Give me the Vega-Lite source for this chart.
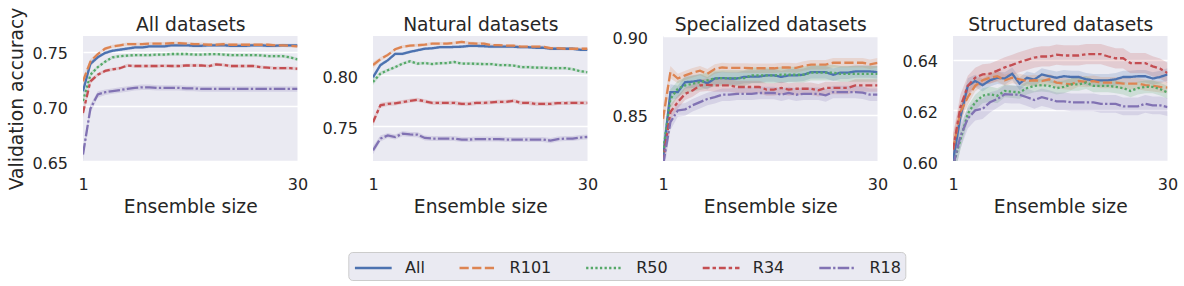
{
"$schema": "https://vega.github.io/schema/vega-lite/v6.json",
"padding": {"left": 7, "top": 7, "right": 0, "bottom": 0},
"background": "white",
"datasets": {
"p1": [
{"s":"All","x":1,"y":0.714,"e":0.004},{"s":"All","x":2,"y":0.739,"e":0.0025},{"s":"All","x":3,"y":0.745,"e":0.0015},{"s":"All","x":4,"y":0.749,"e":0.0015},{"s":"All","x":5,"y":0.751,"e":0.0015},{"s":"All","x":6,"y":0.752,"e":0.0015},{"s":"All","x":7,"y":0.753,"e":0.0015},{"s":"All","x":8,"y":0.754,"e":0.0015},{"s":"All","x":9,"y":0.754,"e":0.0015},{"s":"All","x":10,"y":0.755,"e":0.0015},{"s":"All","x":11,"y":0.755,"e":0.0015},{"s":"All","x":12,"y":0.755,"e":0.0015},{"s":"All","x":13,"y":0.756,"e":0.0015},{"s":"All","x":14,"y":0.756,"e":0.0015},{"s":"All","x":15,"y":0.756,"e":0.0015},{"s":"All","x":16,"y":0.7555,"e":0.0015},{"s":"All","x":17,"y":0.7555,"e":0.0015},{"s":"All","x":18,"y":0.756,"e":0.0015},{"s":"All","x":19,"y":0.756,"e":0.0015},{"s":"All","x":20,"y":0.756,"e":0.0015},{"s":"All","x":21,"y":0.7555,"e":0.0015},{"s":"All","x":22,"y":0.7555,"e":0.0015},{"s":"All","x":23,"y":0.7555,"e":0.0015},{"s":"All","x":24,"y":0.756,"e":0.0015},{"s":"All","x":25,"y":0.756,"e":0.0015},{"s":"All","x":26,"y":0.7555,"e":0.0015},{"s":"All","x":27,"y":0.7555,"e":0.0015},{"s":"All","x":28,"y":0.756,"e":0.0015},{"s":"All","x":29,"y":0.756,"e":0.0015},{"s":"All","x":30,"y":0.756,"e":0.0015},
{"s":"R101","x":1,"y":0.723,"e":0.004},{"s":"R101","x":2,"y":0.741,"e":0.0025},{"s":"R101","x":3,"y":0.748,"e":0.0015},{"s":"R101","x":4,"y":0.753,"e":0.0015},{"s":"R101","x":5,"y":0.755,"e":0.0015},{"s":"R101","x":6,"y":0.756,"e":0.0015},{"s":"R101","x":7,"y":0.757,"e":0.0015},{"s":"R101","x":8,"y":0.757,"e":0.0015},{"s":"R101","x":9,"y":0.757,"e":0.0015},{"s":"R101","x":10,"y":0.7575,"e":0.0015},{"s":"R101","x":11,"y":0.7575,"e":0.0015},{"s":"R101","x":12,"y":0.7575,"e":0.0015},{"s":"R101","x":13,"y":0.758,"e":0.0015},{"s":"R101","x":14,"y":0.758,"e":0.0015},{"s":"R101","x":15,"y":0.7575,"e":0.0015},{"s":"R101","x":16,"y":0.757,"e":0.0015},{"s":"R101","x":17,"y":0.757,"e":0.0015},{"s":"R101","x":18,"y":0.7565,"e":0.0015},{"s":"R101","x":19,"y":0.7565,"e":0.0015},{"s":"R101","x":20,"y":0.757,"e":0.0015},{"s":"R101","x":21,"y":0.7565,"e":0.0015},{"s":"R101","x":22,"y":0.7565,"e":0.0015},{"s":"R101","x":23,"y":0.7565,"e":0.0015},{"s":"R101","x":24,"y":0.7565,"e":0.0015},{"s":"R101","x":25,"y":0.7565,"e":0.0015},{"s":"R101","x":26,"y":0.7565,"e":0.0015},{"s":"R101","x":27,"y":0.756,"e":0.0015},{"s":"R101","x":28,"y":0.756,"e":0.0015},{"s":"R101","x":29,"y":0.7555,"e":0.0015},{"s":"R101","x":30,"y":0.755,"e":0.0015},
{"s":"R50","x":1,"y":0.705,"e":0.004},{"s":"R50","x":2,"y":0.729,"e":0.0025},{"s":"R50","x":3,"y":0.736,"e":0.0015},{"s":"R50","x":4,"y":0.741,"e":0.0015},{"s":"R50","x":5,"y":0.745,"e":0.0015},{"s":"R50","x":6,"y":0.746,"e":0.0015},{"s":"R50","x":7,"y":0.7465,"e":0.0015},{"s":"R50","x":8,"y":0.747,"e":0.0015},{"s":"R50","x":9,"y":0.747,"e":0.0015},{"s":"R50","x":10,"y":0.747,"e":0.0015},{"s":"R50","x":11,"y":0.7475,"e":0.0015},{"s":"R50","x":12,"y":0.7475,"e":0.0015},{"s":"R50","x":13,"y":0.748,"e":0.0015},{"s":"R50","x":14,"y":0.748,"e":0.0015},{"s":"R50","x":15,"y":0.748,"e":0.0015},{"s":"R50","x":16,"y":0.7475,"e":0.0015},{"s":"R50","x":17,"y":0.7475,"e":0.0015},{"s":"R50","x":18,"y":0.7478,"e":0.0015},{"s":"R50","x":19,"y":0.748,"e":0.0015},{"s":"R50","x":20,"y":0.7475,"e":0.0015},{"s":"R50","x":21,"y":0.747,"e":0.0015},{"s":"R50","x":22,"y":0.747,"e":0.0015},{"s":"R50","x":23,"y":0.747,"e":0.0015},{"s":"R50","x":24,"y":0.747,"e":0.0015},{"s":"R50","x":25,"y":0.7468,"e":0.0015},{"s":"R50","x":26,"y":0.746,"e":0.0015},{"s":"R50","x":27,"y":0.746,"e":0.0015},{"s":"R50","x":28,"y":0.746,"e":0.0015},{"s":"R50","x":29,"y":0.745,"e":0.0015},{"s":"R50","x":30,"y":0.743,"e":0.0015},
{"s":"R34","x":1,"y":0.694,"e":0.004},{"s":"R34","x":2,"y":0.723,"e":0.0025},{"s":"R34","x":3,"y":0.729,"e":0.0015},{"s":"R34","x":4,"y":0.7325,"e":0.0015},{"s":"R34","x":5,"y":0.734,"e":0.0015},{"s":"R34","x":6,"y":0.735,"e":0.0015},{"s":"R34","x":7,"y":0.7375,"e":0.0015},{"s":"R34","x":8,"y":0.737,"e":0.0015},{"s":"R34","x":9,"y":0.737,"e":0.0015},{"s":"R34","x":10,"y":0.737,"e":0.0015},{"s":"R34","x":11,"y":0.737,"e":0.0015},{"s":"R34","x":12,"y":0.7372,"e":0.0015},{"s":"R34","x":13,"y":0.737,"e":0.0015},{"s":"R34","x":14,"y":0.737,"e":0.0015},{"s":"R34","x":15,"y":0.7375,"e":0.0015},{"s":"R34","x":16,"y":0.7375,"e":0.0015},{"s":"R34","x":17,"y":0.7375,"e":0.0015},{"s":"R34","x":18,"y":0.737,"e":0.0015},{"s":"R34","x":19,"y":0.7385,"e":0.0015},{"s":"R34","x":20,"y":0.738,"e":0.0015},{"s":"R34","x":21,"y":0.737,"e":0.0015},{"s":"R34","x":22,"y":0.737,"e":0.0015},{"s":"R34","x":23,"y":0.737,"e":0.0015},{"s":"R34","x":24,"y":0.737,"e":0.0015},{"s":"R34","x":25,"y":0.736,"e":0.0015},{"s":"R34","x":26,"y":0.7355,"e":0.0015},{"s":"R34","x":27,"y":0.735,"e":0.0015},{"s":"R34","x":28,"y":0.735,"e":0.0015},{"s":"R34","x":29,"y":0.735,"e":0.0015},{"s":"R34","x":30,"y":0.7345,"e":0.0015},
{"s":"R18","x":1,"y":0.656,"e":0.005},{"s":"R18","x":2,"y":0.698,"e":0.004},{"s":"R18","x":3,"y":0.711,"e":0.003},{"s":"R18","x":4,"y":0.713,"e":0.0025},{"s":"R18","x":5,"y":0.714,"e":0.0025},{"s":"R18","x":6,"y":0.715,"e":0.0025},{"s":"R18","x":7,"y":0.716,"e":0.0025},{"s":"R18","x":8,"y":0.717,"e":0.0025},{"s":"R18","x":9,"y":0.7175,"e":0.0025},{"s":"R18","x":10,"y":0.7175,"e":0.0025},{"s":"R18","x":11,"y":0.717,"e":0.0025},{"s":"R18","x":12,"y":0.717,"e":0.0025},{"s":"R18","x":13,"y":0.717,"e":0.0025},{"s":"R18","x":14,"y":0.717,"e":0.0025},{"s":"R18","x":15,"y":0.7165,"e":0.0025},{"s":"R18","x":16,"y":0.7165,"e":0.0025},{"s":"R18","x":17,"y":0.716,"e":0.0025},{"s":"R18","x":18,"y":0.716,"e":0.0025},{"s":"R18","x":19,"y":0.716,"e":0.0025},{"s":"R18","x":20,"y":0.716,"e":0.0025},{"s":"R18","x":21,"y":0.716,"e":0.0025},{"s":"R18","x":22,"y":0.716,"e":0.0025},{"s":"R18","x":23,"y":0.716,"e":0.0025},{"s":"R18","x":24,"y":0.716,"e":0.0025},{"s":"R18","x":25,"y":0.716,"e":0.0025},{"s":"R18","x":26,"y":0.716,"e":0.0025},{"s":"R18","x":27,"y":0.716,"e":0.0025},{"s":"R18","x":28,"y":0.716,"e":0.0025},{"s":"R18","x":29,"y":0.716,"e":0.0025},{"s":"R18","x":30,"y":0.716,"e":0.0025}
],
"p2": [
{"s":"All","x":1,"y":0.798,"e":0.003},{"s":"All","x":2,"y":0.81,"e":0.002},{"s":"All","x":3,"y":0.8147,"e":0.0015},{"s":"All","x":4,"y":0.821,"e":0.0015},{"s":"All","x":5,"y":0.821,"e":0.0015},{"s":"All","x":6,"y":0.823,"e":0.0015},{"s":"All","x":7,"y":0.8245,"e":0.0015},{"s":"All","x":8,"y":0.826,"e":0.0015},{"s":"All","x":9,"y":0.8265,"e":0.0015},{"s":"All","x":10,"y":0.8275,"e":0.0015},{"s":"All","x":11,"y":0.8275,"e":0.0015},{"s":"All","x":12,"y":0.8278,"e":0.0015},{"s":"All","x":13,"y":0.828,"e":0.0015},{"s":"All","x":14,"y":0.8288,"e":0.0015},{"s":"All","x":15,"y":0.8288,"e":0.0015},{"s":"All","x":16,"y":0.8285,"e":0.0015},{"s":"All","x":17,"y":0.828,"e":0.0015},{"s":"All","x":18,"y":0.828,"e":0.0015},{"s":"All","x":19,"y":0.828,"e":0.0015},{"s":"All","x":20,"y":0.828,"e":0.0015},{"s":"All","x":21,"y":0.8275,"e":0.0015},{"s":"All","x":22,"y":0.8275,"e":0.0015},{"s":"All","x":23,"y":0.827,"e":0.0015},{"s":"All","x":24,"y":0.827,"e":0.0015},{"s":"All","x":25,"y":0.826,"e":0.0015},{"s":"All","x":26,"y":0.826,"e":0.0015},{"s":"All","x":27,"y":0.826,"e":0.0015},{"s":"All","x":28,"y":0.826,"e":0.0015},{"s":"All","x":29,"y":0.825,"e":0.0015},{"s":"All","x":30,"y":0.825,"e":0.0015},
{"s":"R101","x":1,"y":0.81,"e":0.003},{"s":"R101","x":2,"y":0.8157,"e":0.002},{"s":"R101","x":3,"y":0.82,"e":0.0015},{"s":"R101","x":4,"y":0.8255,"e":0.0015},{"s":"R101","x":5,"y":0.828,"e":0.0015},{"s":"R101","x":6,"y":0.829,"e":0.0015},{"s":"R101","x":7,"y":0.8294,"e":0.0015},{"s":"R101","x":8,"y":0.83,"e":0.0015},{"s":"R101","x":9,"y":0.831,"e":0.0015},{"s":"R101","x":10,"y":0.831,"e":0.0015},{"s":"R101","x":11,"y":0.831,"e":0.0015},{"s":"R101","x":12,"y":0.8317,"e":0.0015},{"s":"R101","x":13,"y":0.8327,"e":0.0015},{"s":"R101","x":14,"y":0.8315,"e":0.0015},{"s":"R101","x":15,"y":0.831,"e":0.0015},{"s":"R101","x":16,"y":0.831,"e":0.0015},{"s":"R101","x":17,"y":0.8295,"e":0.0015},{"s":"R101","x":18,"y":0.8295,"e":0.0015},{"s":"R101","x":19,"y":0.829,"e":0.0015},{"s":"R101","x":20,"y":0.829,"e":0.0015},{"s":"R101","x":21,"y":0.828,"e":0.0015},{"s":"R101","x":22,"y":0.828,"e":0.0015},{"s":"R101","x":23,"y":0.828,"e":0.0015},{"s":"R101","x":24,"y":0.828,"e":0.0015},{"s":"R101","x":25,"y":0.8265,"e":0.0015},{"s":"R101","x":26,"y":0.8265,"e":0.0015},{"s":"R101","x":27,"y":0.826,"e":0.0015},{"s":"R101","x":28,"y":0.826,"e":0.0015},{"s":"R101","x":29,"y":0.826,"e":0.0015},{"s":"R101","x":30,"y":0.826,"e":0.0015},
{"s":"R50","x":1,"y":0.7935,"e":0.003},{"s":"R50","x":2,"y":0.8016,"e":0.002},{"s":"R50","x":3,"y":0.805,"e":0.0015},{"s":"R50","x":4,"y":0.808,"e":0.0015},{"s":"R50","x":5,"y":0.8114,"e":0.0015},{"s":"R50","x":6,"y":0.8137,"e":0.0015},{"s":"R50","x":7,"y":0.8114,"e":0.0015},{"s":"R50","x":8,"y":0.812,"e":0.0015},{"s":"R50","x":9,"y":0.811,"e":0.0015},{"s":"R50","x":10,"y":0.8118,"e":0.0015},{"s":"R50","x":11,"y":0.812,"e":0.0015},{"s":"R50","x":12,"y":0.813,"e":0.0015},{"s":"R50","x":13,"y":0.8115,"e":0.0015},{"s":"R50","x":14,"y":0.8115,"e":0.0015},{"s":"R50","x":15,"y":0.8112,"e":0.0015},{"s":"R50","x":16,"y":0.811,"e":0.0015},{"s":"R50","x":17,"y":0.811,"e":0.0015},{"s":"R50","x":18,"y":0.81,"e":0.0015},{"s":"R50","x":19,"y":0.81,"e":0.0015},{"s":"R50","x":20,"y":0.8095,"e":0.0015},{"s":"R50","x":21,"y":0.808,"e":0.0015},{"s":"R50","x":22,"y":0.808,"e":0.0015},{"s":"R50","x":23,"y":0.8075,"e":0.0015},{"s":"R50","x":24,"y":0.8075,"e":0.0015},{"s":"R50","x":25,"y":0.807,"e":0.0015},{"s":"R50","x":26,"y":0.807,"e":0.0015},{"s":"R50","x":27,"y":0.807,"e":0.0015},{"s":"R50","x":28,"y":0.806,"e":0.0015},{"s":"R50","x":29,"y":0.804,"e":0.0015},{"s":"R50","x":30,"y":0.803,"e":0.0015},
{"s":"R34","x":1,"y":0.754,"e":0.004},{"s":"R34","x":2,"y":0.7706,"e":0.0025},{"s":"R34","x":3,"y":0.772,"e":0.002},{"s":"R34","x":4,"y":0.7725,"e":0.002},{"s":"R34","x":5,"y":0.7738,"e":0.002},{"s":"R34","x":6,"y":0.775,"e":0.002},{"s":"R34","x":7,"y":0.776,"e":0.002},{"s":"R34","x":8,"y":0.7745,"e":0.002},{"s":"R34","x":9,"y":0.7729,"e":0.002},{"s":"R34","x":10,"y":0.773,"e":0.002},{"s":"R34","x":11,"y":0.773,"e":0.002},{"s":"R34","x":12,"y":0.773,"e":0.002},{"s":"R34","x":13,"y":0.772,"e":0.002},{"s":"R34","x":14,"y":0.772,"e":0.002},{"s":"R34","x":15,"y":0.773,"e":0.002},{"s":"R34","x":16,"y":0.773,"e":0.002},{"s":"R34","x":17,"y":0.7735,"e":0.002},{"s":"R34","x":18,"y":0.774,"e":0.002},{"s":"R34","x":19,"y":0.774,"e":0.002},{"s":"R34","x":20,"y":0.775,"e":0.002},{"s":"R34","x":21,"y":0.773,"e":0.002},{"s":"R34","x":22,"y":0.773,"e":0.002},{"s":"R34","x":23,"y":0.772,"e":0.002},{"s":"R34","x":24,"y":0.772,"e":0.002},{"s":"R34","x":25,"y":0.772,"e":0.002},{"s":"R34","x":26,"y":0.7728,"e":0.002},{"s":"R34","x":27,"y":0.7728,"e":0.002},{"s":"R34","x":28,"y":0.773,"e":0.002},{"s":"R34","x":29,"y":0.773,"e":0.002},{"s":"R34","x":30,"y":0.773,"e":0.002},
{"s":"R18","x":1,"y":0.7265,"e":0.004},{"s":"R18","x":2,"y":0.738,"e":0.003},{"s":"R18","x":3,"y":0.741,"e":0.0025},{"s":"R18","x":4,"y":0.7395,"e":0.0025},{"s":"R18","x":5,"y":0.7428,"e":0.0025},{"s":"R18","x":6,"y":0.742,"e":0.0025},{"s":"R18","x":7,"y":0.7418,"e":0.0025},{"s":"R18","x":8,"y":0.7386,"e":0.0025},{"s":"R18","x":9,"y":0.738,"e":0.0025},{"s":"R18","x":10,"y":0.738,"e":0.0025},{"s":"R18","x":11,"y":0.738,"e":0.0025},{"s":"R18","x":12,"y":0.738,"e":0.0025},{"s":"R18","x":13,"y":0.737,"e":0.0025},{"s":"R18","x":14,"y":0.737,"e":0.0025},{"s":"R18","x":15,"y":0.7375,"e":0.0025},{"s":"R18","x":16,"y":0.7375,"e":0.0025},{"s":"R18","x":17,"y":0.7375,"e":0.0025},{"s":"R18","x":18,"y":0.7375,"e":0.0025},{"s":"R18","x":19,"y":0.737,"e":0.0025},{"s":"R18","x":20,"y":0.737,"e":0.0025},{"s":"R18","x":21,"y":0.737,"e":0.0025},{"s":"R18","x":22,"y":0.737,"e":0.0025},{"s":"R18","x":23,"y":0.737,"e":0.0025},{"s":"R18","x":24,"y":0.737,"e":0.0025},{"s":"R18","x":25,"y":0.736,"e":0.0025},{"s":"R18","x":26,"y":0.7375,"e":0.0025},{"s":"R18","x":27,"y":0.738,"e":0.0025},{"s":"R18","x":28,"y":0.738,"e":0.0025},{"s":"R18","x":29,"y":0.739,"e":0.0025},{"s":"R18","x":30,"y":0.7395,"e":0.0025}
],
"p3": [
{"s":"All","x":1,"y":0.822,"e":0.008},{"s":"All","x":2,"y":0.8644,"e":0.005},{"s":"All","x":3,"y":0.8644,"e":0.004},{"s":"All","x":4,"y":0.8707,"e":0.004},{"s":"All","x":5,"y":0.871,"e":0.004},{"s":"All","x":6,"y":0.8718,"e":0.004},{"s":"All","x":7,"y":0.87,"e":0.004},{"s":"All","x":8,"y":0.873,"e":0.004},{"s":"All","x":9,"y":0.8733,"e":0.004},{"s":"All","x":10,"y":0.873,"e":0.004},{"s":"All","x":11,"y":0.873,"e":0.004},{"s":"All","x":12,"y":0.874,"e":0.004},{"s":"All","x":13,"y":0.8742,"e":0.004},{"s":"All","x":14,"y":0.8742,"e":0.004},{"s":"All","x":15,"y":0.875,"e":0.004},{"s":"All","x":16,"y":0.875,"e":0.004},{"s":"All","x":17,"y":0.874,"e":0.004},{"s":"All","x":18,"y":0.875,"e":0.004},{"s":"All","x":19,"y":0.875,"e":0.004},{"s":"All","x":20,"y":0.8754,"e":0.004},{"s":"All","x":21,"y":0.877,"e":0.004},{"s":"All","x":22,"y":0.877,"e":0.004},{"s":"All","x":23,"y":0.877,"e":0.004},{"s":"All","x":24,"y":0.8754,"e":0.004},{"s":"All","x":25,"y":0.8767,"e":0.004},{"s":"All","x":26,"y":0.8767,"e":0.004},{"s":"All","x":27,"y":0.8775,"e":0.004},{"s":"All","x":28,"y":0.8775,"e":0.004},{"s":"All","x":29,"y":0.8775,"e":0.004},{"s":"All","x":30,"y":0.877,"e":0.004},
{"s":"R101","x":1,"y":0.8474,"e":0.008},{"s":"R101","x":2,"y":0.877,"e":0.004},{"s":"R101","x":3,"y":0.873,"e":0.003},{"s":"R101","x":4,"y":0.875,"e":0.003},{"s":"R101","x":5,"y":0.8767,"e":0.003},{"s":"R101","x":6,"y":0.878,"e":0.003},{"s":"R101","x":7,"y":0.876,"e":0.003},{"s":"R101","x":8,"y":0.879,"e":0.003},{"s":"R101","x":9,"y":0.88,"e":0.003},{"s":"R101","x":10,"y":0.8797,"e":0.003},{"s":"R101","x":11,"y":0.8797,"e":0.003},{"s":"R101","x":12,"y":0.8797,"e":0.003},{"s":"R101","x":13,"y":0.8795,"e":0.003},{"s":"R101","x":14,"y":0.8795,"e":0.003},{"s":"R101","x":15,"y":0.8795,"e":0.003},{"s":"R101","x":16,"y":0.8795,"e":0.003},{"s":"R101","x":17,"y":0.88,"e":0.003},{"s":"R101","x":18,"y":0.88,"e":0.003},{"s":"R101","x":19,"y":0.8797,"e":0.003},{"s":"R101","x":20,"y":0.881,"e":0.003},{"s":"R101","x":21,"y":0.8818,"e":0.003},{"s":"R101","x":22,"y":0.8818,"e":0.003},{"s":"R101","x":23,"y":0.8818,"e":0.003},{"s":"R101","x":24,"y":0.883,"e":0.003},{"s":"R101","x":25,"y":0.883,"e":0.003},{"s":"R101","x":26,"y":0.883,"e":0.003},{"s":"R101","x":27,"y":0.883,"e":0.003},{"s":"R101","x":28,"y":0.883,"e":0.003},{"s":"R101","x":29,"y":0.882,"e":0.003},{"s":"R101","x":30,"y":0.883,"e":0.003},
{"s":"R50","x":1,"y":0.826,"e":0.008},{"s":"R50","x":2,"y":0.86,"e":0.006},{"s":"R50","x":3,"y":0.8665,"e":0.005},{"s":"R50","x":4,"y":0.8686,"e":0.005},{"s":"R50","x":5,"y":0.8697,"e":0.005},{"s":"R50","x":6,"y":0.8707,"e":0.005},{"s":"R50","x":7,"y":0.8718,"e":0.005},{"s":"R50","x":8,"y":0.873,"e":0.005},{"s":"R50","x":9,"y":0.8733,"e":0.005},{"s":"R50","x":10,"y":0.8733,"e":0.005},{"s":"R50","x":11,"y":0.8733,"e":0.005},{"s":"R50","x":12,"y":0.8733,"e":0.005},{"s":"R50","x":13,"y":0.875,"e":0.005},{"s":"R50","x":14,"y":0.875,"e":0.005},{"s":"R50","x":15,"y":0.875,"e":0.005},{"s":"R50","x":16,"y":0.875,"e":0.005},{"s":"R50","x":17,"y":0.8754,"e":0.005},{"s":"R50","x":18,"y":0.8754,"e":0.005},{"s":"R50","x":19,"y":0.8754,"e":0.005},{"s":"R50","x":20,"y":0.8754,"e":0.005},{"s":"R50","x":21,"y":0.8767,"e":0.005},{"s":"R50","x":22,"y":0.8767,"e":0.005},{"s":"R50","x":23,"y":0.8767,"e":0.005},{"s":"R50","x":24,"y":0.8767,"e":0.005},{"s":"R50","x":25,"y":0.876,"e":0.005},{"s":"R50","x":26,"y":0.876,"e":0.005},{"s":"R50","x":27,"y":0.876,"e":0.005},{"s":"R50","x":28,"y":0.876,"e":0.005},{"s":"R50","x":29,"y":0.876,"e":0.005},{"s":"R50","x":30,"y":0.876,"e":0.005},
{"s":"R34","x":1,"y":0.82,"e":0.008},{"s":"R34","x":2,"y":0.8517,"e":0.005},{"s":"R34","x":3,"y":0.858,"e":0.004},{"s":"R34","x":4,"y":0.8633,"e":0.004},{"s":"R34","x":5,"y":0.8654,"e":0.004},{"s":"R34","x":6,"y":0.8686,"e":0.004},{"s":"R34","x":7,"y":0.869,"e":0.004},{"s":"R34","x":8,"y":0.8686,"e":0.004},{"s":"R34","x":9,"y":0.8686,"e":0.004},{"s":"R34","x":10,"y":0.8686,"e":0.004},{"s":"R34","x":11,"y":0.8676,"e":0.004},{"s":"R34","x":12,"y":0.8676,"e":0.004},{"s":"R34","x":13,"y":0.8676,"e":0.004},{"s":"R34","x":14,"y":0.8676,"e":0.004},{"s":"R34","x":15,"y":0.866,"e":0.004},{"s":"R34","x":16,"y":0.866,"e":0.004},{"s":"R34","x":17,"y":0.867,"e":0.004},{"s":"R34","x":18,"y":0.866,"e":0.004},{"s":"R34","x":19,"y":0.8665,"e":0.004},{"s":"R34","x":20,"y":0.8665,"e":0.004},{"s":"R34","x":21,"y":0.8665,"e":0.004},{"s":"R34","x":22,"y":0.8655,"e":0.004},{"s":"R34","x":23,"y":0.867,"e":0.004},{"s":"R34","x":24,"y":0.867,"e":0.004},{"s":"R34","x":25,"y":0.867,"e":0.004},{"s":"R34","x":26,"y":0.867,"e":0.004},{"s":"R34","x":27,"y":0.8686,"e":0.004},{"s":"R34","x":28,"y":0.8686,"e":0.004},{"s":"R34","x":29,"y":0.8686,"e":0.004},{"s":"R34","x":30,"y":0.8686,"e":0.004},
{"s":"R18","x":1,"y":0.818,"e":0.008},{"s":"R18","x":2,"y":0.8453,"e":0.005},{"s":"R18","x":3,"y":0.8527,"e":0.004},{"s":"R18","x":4,"y":0.8534,"e":0.004},{"s":"R18","x":5,"y":0.856,"e":0.004},{"s":"R18","x":6,"y":0.858,"e":0.004},{"s":"R18","x":7,"y":0.86,"e":0.004},{"s":"R18","x":8,"y":0.8612,"e":0.004},{"s":"R18","x":9,"y":0.8627,"e":0.004},{"s":"R18","x":10,"y":0.8627,"e":0.004},{"s":"R18","x":11,"y":0.8633,"e":0.004},{"s":"R18","x":12,"y":0.8633,"e":0.004},{"s":"R18","x":13,"y":0.8633,"e":0.004},{"s":"R18","x":14,"y":0.8638,"e":0.004},{"s":"R18","x":15,"y":0.8638,"e":0.004},{"s":"R18","x":16,"y":0.8638,"e":0.004},{"s":"R18","x":17,"y":0.8627,"e":0.004},{"s":"R18","x":18,"y":0.8638,"e":0.004},{"s":"R18","x":19,"y":0.8627,"e":0.004},{"s":"R18","x":20,"y":0.8633,"e":0.004},{"s":"R18","x":21,"y":0.8633,"e":0.004},{"s":"R18","x":22,"y":0.8633,"e":0.004},{"s":"R18","x":23,"y":0.8623,"e":0.004},{"s":"R18","x":24,"y":0.8644,"e":0.004},{"s":"R18","x":25,"y":0.8644,"e":0.004},{"s":"R18","x":26,"y":0.8644,"e":0.004},{"s":"R18","x":27,"y":0.8644,"e":0.004},{"s":"R18","x":28,"y":0.864,"e":0.004},{"s":"R18","x":29,"y":0.8627,"e":0.004},{"s":"R18","x":30,"y":0.8627,"e":0.004}
],
"p4": [
{"s":"All","x":1,"y":0.6,"e":0.006},{"s":"All","x":2,"y":0.6174,"e":0.004},{"s":"All","x":3,"y":0.6297,"e":0.003},{"s":"All","x":4,"y":0.6316,"e":0.0025},{"s":"All","x":5,"y":0.63,"e":0.0025},{"s":"All","x":6,"y":0.6319,"e":0.0025},{"s":"All","x":7,"y":0.6329,"e":0.0025},{"s":"All","x":8,"y":0.6326,"e":0.0025},{"s":"All","x":9,"y":0.6345,"e":0.0025},{"s":"All","x":10,"y":0.6306,"e":0.0025},{"s":"All","x":11,"y":0.6329,"e":0.0025},{"s":"All","x":12,"y":0.6322,"e":0.0025},{"s":"All","x":13,"y":0.6342,"e":0.0025},{"s":"All","x":14,"y":0.6335,"e":0.0025},{"s":"All","x":15,"y":0.6329,"e":0.0025},{"s":"All","x":16,"y":0.6335,"e":0.0025},{"s":"All","x":17,"y":0.6332,"e":0.0025},{"s":"All","x":18,"y":0.6332,"e":0.0025},{"s":"All","x":19,"y":0.6323,"e":0.0025},{"s":"All","x":20,"y":0.6319,"e":0.0025},{"s":"All","x":21,"y":0.6319,"e":0.0025},{"s":"All","x":22,"y":0.6319,"e":0.0025},{"s":"All","x":23,"y":0.6323,"e":0.0025},{"s":"All","x":24,"y":0.6332,"e":0.0025},{"s":"All","x":25,"y":0.6332,"e":0.0025},{"s":"All","x":26,"y":0.6335,"e":0.0025},{"s":"All","x":27,"y":0.6335,"e":0.0025},{"s":"All","x":28,"y":0.6326,"e":0.0025},{"s":"All","x":29,"y":0.6332,"e":0.0025},{"s":"All","x":30,"y":0.6342,"e":0.0025},
{"s":"R101","x":1,"y":0.6045,"e":0.006},{"s":"R101","x":2,"y":0.6194,"e":0.004},{"s":"R101","x":3,"y":0.6252,"e":0.003},{"s":"R101","x":4,"y":0.6297,"e":0.0022},{"s":"R101","x":5,"y":0.6319,"e":0.0022},{"s":"R101","x":6,"y":0.6329,"e":0.0022},{"s":"R101","x":7,"y":0.6335,"e":0.0022},{"s":"R101","x":8,"y":0.6319,"e":0.0022},{"s":"R101","x":9,"y":0.6329,"e":0.0022},{"s":"R101","x":10,"y":0.6323,"e":0.0022},{"s":"R101","x":11,"y":0.6316,"e":0.0022},{"s":"R101","x":12,"y":0.6319,"e":0.0022},{"s":"R101","x":13,"y":0.6316,"e":0.0022},{"s":"R101","x":14,"y":0.6323,"e":0.0022},{"s":"R101","x":15,"y":0.631,"e":0.0022},{"s":"R101","x":16,"y":0.6306,"e":0.0022},{"s":"R101","x":17,"y":0.6303,"e":0.0022},{"s":"R101","x":18,"y":0.6316,"e":0.0022},{"s":"R101","x":19,"y":0.6313,"e":0.0022},{"s":"R101","x":20,"y":0.6316,"e":0.0022},{"s":"R101","x":21,"y":0.631,"e":0.0022},{"s":"R101","x":22,"y":0.631,"e":0.0022},{"s":"R101","x":23,"y":0.631,"e":0.0022},{"s":"R101","x":24,"y":0.6306,"e":0.0022},{"s":"R101","x":25,"y":0.6306,"e":0.0022},{"s":"R101","x":26,"y":0.6306,"e":0.0022},{"s":"R101","x":27,"y":0.63,"e":0.0022},{"s":"R101","x":28,"y":0.6297,"e":0.0022},{"s":"R101","x":29,"y":0.6293,"e":0.0022},{"s":"R101","x":30,"y":0.629,"e":0.0022},
{"s":"R50","x":1,"y":0.598,"e":0.006},{"s":"R50","x":2,"y":0.6084,"e":0.004},{"s":"R50","x":3,"y":0.6187,"e":0.003},{"s":"R50","x":4,"y":0.6232,"e":0.003},{"s":"R50","x":5,"y":0.6258,"e":0.003},{"s":"R50","x":6,"y":0.6264,"e":0.003},{"s":"R50","x":7,"y":0.6258,"e":0.003},{"s":"R50","x":8,"y":0.6277,"e":0.0025},{"s":"R50","x":9,"y":0.6274,"e":0.0025},{"s":"R50","x":10,"y":0.6271,"e":0.0025},{"s":"R50","x":11,"y":0.6288,"e":0.0025},{"s":"R50","x":12,"y":0.6297,"e":0.0025},{"s":"R50","x":13,"y":0.63,"e":0.0025},{"s":"R50","x":14,"y":0.6297,"e":0.0025},{"s":"R50","x":15,"y":0.6288,"e":0.0025},{"s":"R50","x":16,"y":0.6293,"e":0.0025},{"s":"R50","x":17,"y":0.6303,"e":0.0025},{"s":"R50","x":18,"y":0.6303,"e":0.0025},{"s":"R50","x":19,"y":0.631,"e":0.0025},{"s":"R50","x":20,"y":0.6297,"e":0.0025},{"s":"R50","x":21,"y":0.6297,"e":0.0025},{"s":"R50","x":22,"y":0.6297,"e":0.0025},{"s":"R50","x":23,"y":0.6293,"e":0.0025},{"s":"R50","x":24,"y":0.6288,"e":0.0025},{"s":"R50","x":25,"y":0.6277,"e":0.0025},{"s":"R50","x":26,"y":0.6288,"e":0.0025},{"s":"R50","x":27,"y":0.6293,"e":0.0025},{"s":"R50","x":28,"y":0.6293,"e":0.0025},{"s":"R50","x":29,"y":0.6284,"e":0.0025},{"s":"R50","x":30,"y":0.6271,"e":0.0025},
{"s":"R34","x":1,"y":0.6045,"e":0.006},{"s":"R34","x":2,"y":0.6213,"e":0.005},{"s":"R34","x":3,"y":0.6297,"e":0.004},{"s":"R34","x":4,"y":0.6329,"e":0.004},{"s":"R34","x":5,"y":0.6342,"e":0.004},{"s":"R34","x":6,"y":0.6345,"e":0.004},{"s":"R34","x":7,"y":0.6357,"e":0.004},{"s":"R34","x":8,"y":0.637,"e":0.004},{"s":"R34","x":9,"y":0.638,"e":0.004},{"s":"R34","x":10,"y":0.6391,"e":0.004},{"s":"R34","x":11,"y":0.64,"e":0.004},{"s":"R34","x":12,"y":0.6409,"e":0.004},{"s":"R34","x":13,"y":0.6413,"e":0.004},{"s":"R34","x":14,"y":0.6413,"e":0.004},{"s":"R34","x":15,"y":0.642,"e":0.004},{"s":"R34","x":16,"y":0.6417,"e":0.004},{"s":"R34","x":17,"y":0.6417,"e":0.004},{"s":"R34","x":18,"y":0.6417,"e":0.004},{"s":"R34","x":19,"y":0.6422,"e":0.004},{"s":"R34","x":20,"y":0.6422,"e":0.004},{"s":"R34","x":21,"y":0.6422,"e":0.004},{"s":"R34","x":22,"y":0.6413,"e":0.004},{"s":"R34","x":23,"y":0.6406,"e":0.004},{"s":"R34","x":24,"y":0.6406,"e":0.004},{"s":"R34","x":25,"y":0.6387,"e":0.004},{"s":"R34","x":26,"y":0.6387,"e":0.004},{"s":"R34","x":27,"y":0.6387,"e":0.004},{"s":"R34","x":28,"y":0.6374,"e":0.004},{"s":"R34","x":29,"y":0.6365,"e":0.004},{"s":"R34","x":30,"y":0.6348,"e":0.004},
{"s":"R18","x":1,"y":0.598,"e":0.006},{"s":"R18","x":2,"y":0.6097,"e":0.005},{"s":"R18","x":3,"y":0.6168,"e":0.004},{"s":"R18","x":4,"y":0.62,"e":0.004},{"s":"R18","x":5,"y":0.6206,"e":0.004},{"s":"R18","x":6,"y":0.6232,"e":0.004},{"s":"R18","x":7,"y":0.6245,"e":0.0035},{"s":"R18","x":8,"y":0.6264,"e":0.0035},{"s":"R18","x":9,"y":0.6262,"e":0.0035},{"s":"R18","x":10,"y":0.6262,"e":0.0035},{"s":"R18","x":11,"y":0.6252,"e":0.0035},{"s":"R18","x":12,"y":0.6241,"e":0.0035},{"s":"R18","x":13,"y":0.6252,"e":0.0035},{"s":"R18","x":14,"y":0.6245,"e":0.0035},{"s":"R18","x":15,"y":0.6236,"e":0.0035},{"s":"R18","x":16,"y":0.6236,"e":0.0035},{"s":"R18","x":17,"y":0.6232,"e":0.0035},{"s":"R18","x":18,"y":0.6232,"e":0.0035},{"s":"R18","x":19,"y":0.6232,"e":0.0035},{"s":"R18","x":20,"y":0.6232,"e":0.0035},{"s":"R18","x":21,"y":0.6226,"e":0.0035},{"s":"R18","x":22,"y":0.6226,"e":0.0035},{"s":"R18","x":23,"y":0.6226,"e":0.0035},{"s":"R18","x":24,"y":0.6216,"e":0.0035},{"s":"R18","x":25,"y":0.6216,"e":0.0035},{"s":"R18","x":26,"y":0.6216,"e":0.0035},{"s":"R18","x":27,"y":0.6226,"e":0.0035},{"s":"R18","x":28,"y":0.622,"e":0.0035},{"s":"R18","x":29,"y":0.622,"e":0.0035},{"s":"R18","x":30,"y":0.6213,"e":0.0035}
]
},
"config": {
"font": "DejaVu Sans",
"view": {"fill": "#EAEAF2", "stroke": null},
"axis": {"domain": false, "ticks": false, "labelColor": "#262626", "titleColor": "#262626", "labelFontSize": 16, "titleFontSize": 18.7, "titleFontWeight": "normal", "gridColor": "#FFFFFF", "gridWidth": 1.5, "labelFont": "DejaVu Sans", "titleFont": "DejaVu Sans"},
"axisBottom": {"grid": false, "labelPadding": 15, "titlePadding": 5, "labelFlush": false},
"axisTop": {"grid": false, "labels": false, "titlePadding": 6, "titleBaseline": "alphabetic"},
"axisY": {"labelPadding": 15.5, "titlePadding": 5, "labelOffset": 2},
"legend": {"orient": "none", "legendX": 265.3, "legendY": 216, "direction": "horizontal", "columns": 5, "labelFontSize": 16, "labelColor": "#262626", "labelFont": "DejaVu Sans", "symbolSize": 441, "symbolStrokeWidth": 2.3, "symbolOffset": 9, "labelOffset": 19.7, "columnPadding": 29.6, "padding": 4, "fillColor": "#EAEAF2", "strokeColor": "#CCCCCC", "cornerRadius": 4, "symbolOpacity": 1}
},
"bounds": "flush",
"spacing": 75,
"resolve": {"scale": {"y": "independent", "x": "independent"}},
"hconcat": [
{"width": 214.5, "height": 125, "data": {"name": "p1"},
 "resolve": {"axis": {"x": "independent"}},
 "layer": [
  {"mark": {"type": "errorband", "clip": true, "band": {"opacity": 0.2}},
   "encoding": {"x": {"field": "x", "type": "quantitative", "scale": {"domain": [1, 30], "nice": false}, "axis": {"orient": "top", "title": "All datasets", "labels": false, "grid": false}},
    "y": {"field": "y", "type": "quantitative", "scale": {"domain": [0.65, 0.7645], "nice": false, "zero": false}, "axis": {"values": [0.65, 0.70, 0.75], "format": ".2f", "title": "Validation accuracy"}},
    "yError": {"field": "e"},
    "color": {"field": "s", "type": "nominal", "title": null, "legend": {"symbolType": "M-1.75,0H1.75"}, "scale": {"domain": ["All", "R101", "R50", "R34", "R18"], "range": ["#4C72B0", "#DD8452", "#55A868", "#C44E52", "#8172B3"]}}}},
  {"mark": {"type": "line", "clip": true, "strokeWidth": 2.3},
   "encoding": {"x": {"field": "x", "type": "quantitative", "scale": {"domain": [1, 30], "nice": false}, "axis": {"orient": "bottom", "values": [1, 30], "title": "Ensemble size", "format": "d"}},
    "y": {"field": "y", "type": "quantitative", "scale": {"domain": [0.65, 0.7645], "nice": false, "zero": false}, "axis": {"values": [0.65, 0.70, 0.75], "format": ".2f", "title": "Validation accuracy"}},
    "color": {"field": "s", "type": "nominal", "title": null, "legend": {"symbolType": "M-1.75,0H1.75"}, "scale": {"domain": ["All", "R101", "R50", "R34", "R18"], "range": ["#4C72B0", "#DD8452", "#55A868", "#C44E52", "#8172B3"]}},
    "strokeDash": {"field": "s", "type": "nominal", "title": null, "legend": {"symbolType": "M-1.75,0H1.75"}, "scale": {"domain": ["All", "R101", "R50", "R34", "R18"], "range": [[1, 0], [9.2, 3.45], [2.3, 2.3], [6.9, 2.9, 3.45, 2.9], [11.5, 2.3, 2.3, 2.3]]}}}}
 ]},
{"width": 214.5, "height": 125, "data": {"name": "p2"},
 "resolve": {"axis": {"x": "independent"}},
 "layer": [
  {"mark": {"type": "errorband", "clip": true, "band": {"opacity": 0.2}},
   "encoding": {"x": {"field": "x", "type": "quantitative", "scale": {"domain": [1, 30], "nice": false}, "axis": {"orient": "top", "title": "Natural datasets", "labels": false, "grid": false}},
    "y": {"field": "y", "type": "quantitative", "scale": {"domain": [0.716, 0.8385], "nice": false, "zero": false}, "axis": {"values": [0.75, 0.80], "format": ".2f", "title": null}},
    "yError": {"field": "e"},
    "color": {"field": "s", "type": "nominal", "title": null, "legend": {"symbolType": "M-1.75,0H1.75"}, "scale": {"domain": ["All", "R101", "R50", "R34", "R18"], "range": ["#4C72B0", "#DD8452", "#55A868", "#C44E52", "#8172B3"]}}}},
  {"mark": {"type": "line", "clip": true, "strokeWidth": 2.3},
   "encoding": {"x": {"field": "x", "type": "quantitative", "scale": {"domain": [1, 30], "nice": false}, "axis": {"orient": "bottom", "values": [1, 30], "title": "Ensemble size", "format": "d"}},
    "y": {"field": "y", "type": "quantitative", "scale": {"domain": [0.716, 0.8385], "nice": false, "zero": false}, "axis": {"values": [0.75, 0.80], "format": ".2f", "title": null}},
    "color": {"field": "s", "type": "nominal", "title": null, "legend": {"symbolType": "M-1.75,0H1.75"}, "scale": {"domain": ["All", "R101", "R50", "R34", "R18"], "range": ["#4C72B0", "#DD8452", "#55A868", "#C44E52", "#8172B3"]}},
    "strokeDash": {"field": "s", "type": "nominal", "title": null, "legend": {"symbolType": "M-1.75,0H1.75"}, "scale": {"domain": ["All", "R101", "R50", "R34", "R18"], "range": [[1, 0], [9.2, 3.45], [2.3, 2.3], [6.9, 2.9, 3.45, 2.9], [11.5, 2.3, 2.3, 2.3]]}}}}
 ]},
{"width": 214.5, "height": 125, "data": {"name": "p3"},
 "resolve": {"axis": {"x": "independent"}},
 "layer": [
  {"mark": {"type": "errorband", "clip": true, "band": {"opacity": 0.2}},
   "encoding": {"x": {"field": "x", "type": "quantitative", "scale": {"domain": [1, 30], "nice": false}, "axis": {"orient": "top", "title": "Specialized datasets", "labels": false, "grid": false}},
    "y": {"field": "y", "type": "quantitative", "scale": {"domain": [0.8206, 0.90], "nice": false, "zero": false}, "axis": {"values": [0.85, 0.90], "format": ".2f", "title": null}},
    "yError": {"field": "e"},
    "color": {"field": "s", "type": "nominal", "title": null, "legend": {"symbolType": "M-1.75,0H1.75"}, "scale": {"domain": ["All", "R101", "R50", "R34", "R18"], "range": ["#4C72B0", "#DD8452", "#55A868", "#C44E52", "#8172B3"]}}}},
  {"mark": {"type": "line", "clip": true, "strokeWidth": 2.3},
   "encoding": {"x": {"field": "x", "type": "quantitative", "scale": {"domain": [1, 30], "nice": false}, "axis": {"orient": "bottom", "values": [1, 30], "title": "Ensemble size", "format": "d"}},
    "y": {"field": "y", "type": "quantitative", "scale": {"domain": [0.8206, 0.90], "nice": false, "zero": false}, "axis": {"values": [0.85, 0.90], "format": ".2f", "title": null}},
    "color": {"field": "s", "type": "nominal", "title": null, "legend": {"symbolType": "M-1.75,0H1.75"}, "scale": {"domain": ["All", "R101", "R50", "R34", "R18"], "range": ["#4C72B0", "#DD8452", "#55A868", "#C44E52", "#8172B3"]}},
    "strokeDash": {"field": "s", "type": "nominal", "title": null, "legend": {"symbolType": "M-1.75,0H1.75"}, "scale": {"domain": ["All", "R101", "R50", "R34", "R18"], "range": [[1, 0], [9.2, 3.45], [2.3, 2.3], [6.9, 2.9, 3.45, 2.9], [11.5, 2.3, 2.3, 2.3]]}}}}
 ]},
{"width": 214.5, "height": 125, "data": {"name": "p4"},
 "resolve": {"axis": {"x": "independent"}},
 "layer": [
  {"mark": {"type": "errorband", "clip": true, "band": {"opacity": 0.2}},
   "encoding": {"x": {"field": "x", "type": "quantitative", "scale": {"domain": [1, 30], "nice": false}, "axis": {"orient": "top", "title": "Structured datasets", "labels": false, "grid": false}},
    "y": {"field": "y", "type": "quantitative", "scale": {"domain": [0.60, 0.6494], "nice": false, "zero": false}, "axis": {"values": [0.60, 0.62, 0.64], "format": ".2f", "title": null}},
    "yError": {"field": "e"},
    "color": {"field": "s", "type": "nominal", "title": null, "legend": {"symbolType": "M-1.75,0H1.75"}, "scale": {"domain": ["All", "R101", "R50", "R34", "R18"], "range": ["#4C72B0", "#DD8452", "#55A868", "#C44E52", "#8172B3"]}}}},
  {"mark": {"type": "line", "clip": true, "strokeWidth": 2.3},
   "encoding": {"x": {"field": "x", "type": "quantitative", "scale": {"domain": [1, 30], "nice": false}, "axis": {"orient": "bottom", "values": [1, 30], "title": "Ensemble size", "format": "d"}},
    "y": {"field": "y", "type": "quantitative", "scale": {"domain": [0.60, 0.6494], "nice": false, "zero": false}, "axis": {"values": [0.60, 0.62, 0.64], "format": ".2f", "title": null}},
    "color": {"field": "s", "type": "nominal", "title": null, "legend": {"symbolType": "M-1.75,0H1.75"}, "scale": {"domain": ["All", "R101", "R50", "R34", "R18"], "range": ["#4C72B0", "#DD8452", "#55A868", "#C44E52", "#8172B3"]}},
    "strokeDash": {"field": "s", "type": "nominal", "title": null, "legend": {"symbolType": "M-1.75,0H1.75"}, "scale": {"domain": ["All", "R101", "R50", "R34", "R18"], "range": [[1, 0], [9.2, 3.45], [2.3, 2.3], [6.9, 2.9, 3.45, 2.9], [11.5, 2.3, 2.3, 2.3]]}}}}
 ]}
]
}
